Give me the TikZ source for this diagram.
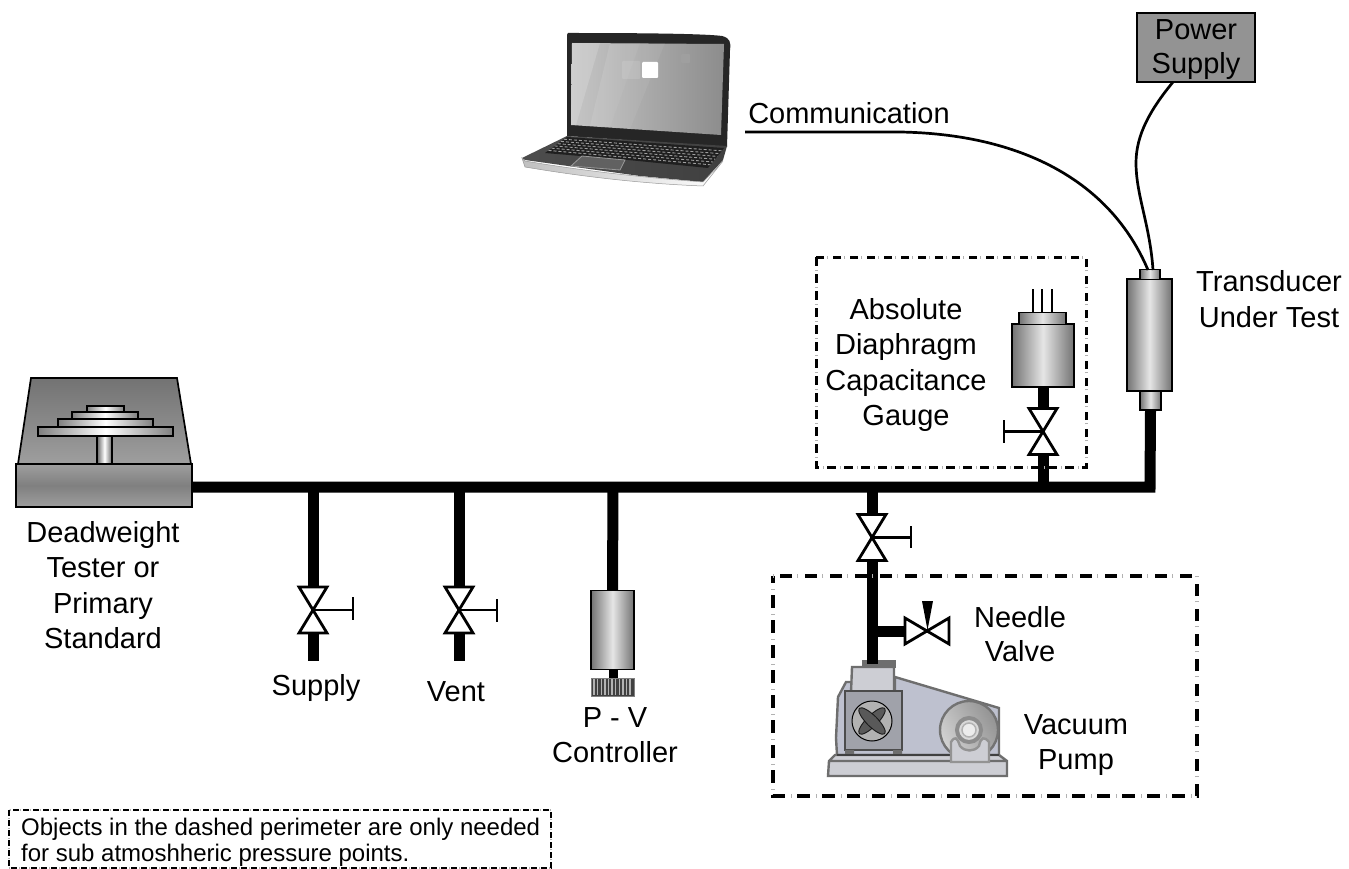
\documentclass[tikz,border=0pt]{standalone}
\usepackage{fontspec}
\setmainfont{Liberation Sans}
\usetikzlibrary{calc}
\definecolor{g40}{gray}{0.40}
\definecolor{g45}{gray}{0.45}
\definecolor{g50}{gray}{0.50}
\definecolor{g62}{gray}{0.62}
\definecolor{g90}{gray}{0.90}
\definecolor{bodyblue}{RGB}{190,193,207}
\definecolor{boxgray}{RGB}{160,162,170}
\definecolor{lightbox}{RGB}{205,206,212}
\definecolor{pumpline}{RGB}{110,110,110}
\tikzset{
  pipe/.style={line width=11pt,black},
  thinwire/.style={line width=2.7pt,black},
  handle/.style={line width=2.7pt,black},
  cyl/.style={draw=black,line width=1.7pt,inner sep=0pt,outer sep=0pt,left color=g45,right color=g45,middle color=g90},
  label/.style={align=center,font=\fontsize{29}{35.5}\selectfont,inner sep=0pt,text=black},
  bigdash/.style={line width=3.5pt,dash pattern=on 12.5pt off 12.5pt,dash phase=6pt},
  bigtick/.style={line width=3.5pt,gray!60,dash pattern=on 1pt off 24pt,dash phase=12.25pt},
  middash/.style={line width=3pt,dash pattern=on 8.5pt off 8.5pt},
  midtick/.style={line width=3pt,gray!60,dash pattern=on 1pt off 16pt,dash phase=4.25pt},
  smalldash/.style={line width=2.8pt,dash pattern=on 6pt off 4pt},
  smalltick/.style={line width=2.8pt,gray!60,dash pattern=on 1pt off 9pt,dash phase=2pt},
  valvebody/.style={draw=black,line width=2.8pt,fill=white,line join=miter},
  valve/.pic={
    \fill[white] (-14,-23) rectangle (14,23);
    \draw[valvebody] (-14,-23) -- (14,-23) -- (-14,23) -- (14,23) -- cycle;
  },
  needlevalve/.pic={
    \fill[white] (-22,-13) rectangle (22,13);
    \draw[valvebody] (-22,-13) -- (-22,13) -- (22,-13) -- (22,13) -- cycle;
  },
}
\begin{document}
\begin{tikzpicture}[x=1pt,y=-1pt]
\useasboundingbox (0,0) rectangle (1349,869);

% ---------- named nodes
\node[draw=black,line width=1.7pt,inner sep=0pt,top color=g62,bottom color=g62,middle color=g50,minimum width=176pt,minimum height=43pt] (tester) at (104,485.5) {};
\node[cyl,minimum width=43pt,minimum height=79pt] (pv) at (612.5,630) {};
\node[draw=black,fill=black,inner sep=0pt,minimum width=8pt,minimum height=10pt] (pvneck) at (613,674) {};
\node[cyl,minimum width=62pt,minimum height=63pt] (gauge) at (1043,355.5) {};
\node[cyl,minimum width=47pt,minimum height=12pt] (gaugecap) at (1042.5,318.5) {};
\node[cyl,minimum width=45pt,minimum height=112pt] (transducer) at (1149.5,335) {};
\node[cyl,minimum width=21pt,minimum height=19pt] (transneck) at (1150.5,400.5) {};
\node[cyl,minimum width=20pt,minimum height=10pt] (transcap) at (1150,274.5) {};
\node[draw=black,line width=1.7pt,fill=gray!85,minimum width=118pt,minimum height=69pt,inner sep=0pt] (power) at (1196,47.5) {};

\coordinate (elbow) at (1150,487);
\coordinate (teeSupply) at (313,487);
\coordinate (endSupply) at (313,661);
\coordinate (teeVent) at (459,487);
\coordinate (endVent) at (459,661);
\coordinate (teePV) at (613,487);
\coordinate (teeGauge) at (1043,487);
\coordinate (teePump) at (872,487);
\coordinate (endPump) at (872,664);
\coordinate (teeNeedle) at (872,631);
\coordinate (vSupply) at (313,610);
\coordinate (vVent) at (459,610);
\coordinate (vGauge) at (1043,431.5);
\coordinate (vPump) at (872,537.5);
\coordinate (vNeedle) at (927,631);
\coordinate (laptopPort) at (745,132);
\coordinate (commBend) at (900,132);
\coordinate (commEnd) at (1148,270);
\coordinate (powerOut) at (1173,82);
\coordinate (powerBulge) at (1136,163);
\coordinate (powerEnd) at (1153,270);

% ---------- pipes
\draw[pipe] (tester.east |- elbow) -- (elbow) -- (transneck.south);
\draw[pipe] (teeSupply) -- (endSupply);
\draw[pipe] (teeVent) -- (endVent);
\draw[pipe] (teePV) -- (pv.north);
\draw[pipe] (teeGauge) -- (gauge.south);
\draw[pipe] (teePump) -- (endPump);
\draw[pipe] (teeNeedle) -- (vNeedle);

% ---------- valves and handles
\pic at (vSupply) {valve};
\pic at (vVent) {valve};
\pic at (vGauge) {valve};
\pic at (vPump) {valve};
\pic at (vNeedle) {needlevalve};
\draw[handle] (vSupply) -- ++(40,0) (353,597) -- (353,620);
\draw[handle] (vVent) -- ++(38,0) (497,599) -- (497,622);
\draw[handle] (vGauge) -- ++(-39,0) (1004,420) -- (1004,443);
\draw[handle] (vPump) -- ++(39,0) (911,526) -- (911,548);
\fill[black] (922,601) -- (933,601) -- (927.5,630) -- cycle;

% ---------- deadweight tester
\shade[top color=g45,bottom color=g62,draw=black,line width=1.7pt] (31,378) -- (177,378) -- (191,464) -- (18,464) -- cycle;
\draw[cyl,left color=g40,right color=g40,middle color=white] (97,436) rectangle (112,464);
\draw[cyl,left color=g50,right color=g50,middle color=white] (87,406) rectangle (124,412);
\draw[cyl,left color=g50,right color=g50,middle color=white] (72,412) rectangle (138,419);
\draw[cyl,left color=g50,right color=g50,middle color=white] (58,419) rectangle (153,427);
\draw[cyl,left color=g50,right color=g50,middle color=white] (38,427) rectangle (173,436);

% ---------- P-V controller knob
\draw[draw=gray,line width=1pt,fill=black!75] (591,678) rectangle (634,696);
\foreach \k in {594,597.6,...,632}{\draw[line width=1.4pt,gray!60] (\k,679) -- (\k,695);}

% ---------- gauge pins
\draw[line width=2.8pt] (1033,289) -- (1033,312) (1042,289) -- (1042,312) (1052,289) -- (1052,312);

% ---------- wires
\draw[thinwire] (laptopPort) -- (commBend) .. controls (1020,134) and (1110,180) .. (commEnd);
\draw[thinwire] (powerOut) .. controls (1150,110) and (1136,135) .. (powerBulge) .. controls (1136,195) and (1150,225) .. (powerEnd);

% ---------- laptop
\fill[black!85] (568,33) .. controls (600,33) and (700,33) .. (722,36) .. controls (730,38) and (731,42) .. (730,50) -- (727,147) -- (567,136) -- (567,40) .. controls (567,35) and (567,33) .. (568,33) -- cycle;
\shade[left color=gray!45,right color=gray!90] (572,43) -- (724,44) -- (721,135) -- (571,125) -- cycle;
\fill[white,opacity=.16] (572,43) -- (600,43) -- (576,125) -- (571,125) -- cycle;
\fill[white,opacity=.10] (610,43) -- (640,43) -- (610,127) -- (590,126) -- cycle;
\fill[white,opacity=.06] (640,43) -- (665,43) -- (630,129) -- (610,127) -- cycle;
\fill[white,rounded corners=1pt] (642,62) rectangle (658,78);
\fill[white,opacity=.12,rounded corners=1pt] (622,61) rectangle (640,79);
\fill[gray!75,rounded corners=1pt] (681,54) rectangle (690,63);
\shade[left color=black!70,right color=black!75] (567,136) -- (727,146) -- (723,160) -- (703,182) -- (640,176) -- (525,160) -- (522,158) -- cycle;
\fill[black!88] (567,137) -- (724,148) -- (708,168) -- (628,160) -- (545,153) -- cycle;
\foreach \t in {0.14,0.28,...,0.9}{
  \draw[gray!75,line width=.9pt,dash pattern=on 3pt off 2pt]
    ($(567,137)!\t!(545,153)$) -- ($(724,148)!\t!(708,168)$);
}
\draw[gray!80,line width=.8pt,fill=black!62] (582,156) -- (625,160) -- (620,170) -- (571,166) -- cycle;
\shade[left color=gray!50,right color=white,draw=gray!80,line width=.5pt] (522,158) -- (525,167) .. controls (590,178) and (650,184) .. (703,186) -- (723,161) -- (703,182) .. controls (650,178) and (590,172) .. (525,161) -- cycle;

% ---------- vacuum pump
\fill[pumpline] (862,660) rectangle (896,668);
\fill[gray!60] (867,660) rectangle (877,664);
\draw[pipe] (872,650) -- (endPump);
\draw[pumpline,line width=2.4pt,fill=bodyblue] (895,677) -- (999,708) -- (999,755) -- (837,755) -- (836,738) -- (838,697) -- (846,682) -- (852,682) -- (852,692) -- (895,692) -- cycle;
\draw[pumpline,line width=2.4pt,fill=lightbox] (852,667) -- (894,667) -- (894,692) -- (851,692) -- cycle;
\draw[black!70,line width=1.2pt,fill=boxgray] (845,691) rectangle (902,750);
\fill[pumpline] (845,750) rectangle (854,757) (893,750) rectangle (902,757);
\draw[pumpline,line width=2.4pt,fill=lightbox] (829,761) -- (828,776) -- (1007,776) -- (1007,761) -- (999,755) -- (835,755) -- cycle (829,761) -- (1007,761);
\draw[black!75,line width=1.6pt] (837,755) -- (999,755);
\draw[black,line width=1pt,fill=gray!60] (872,721) circle[radius=20];
\begin{scope}[shift={(872,721)}]
  \draw[black!90,line width=.9pt,fill=black!65,rotate=45] (0,0) ellipse[x radius=18,y radius=5.5];
  \draw[black!90,line width=.9pt,fill=black!65,rotate=-45] (0,0) ellipse[x radius=18,y radius=5.5];
  \fill[black!65] (0,0) circle[radius=5];
\end{scope}
\shade[left color=gray!35,right color=gray!85,shading angle=120,draw=gray!90!black,line width=2.4pt] (969,730) circle[radius=29];
\draw[gray!90,line width=4pt,fill=gray!30] (969,730) circle[radius=12];
\draw[gray!60,line width=1.5pt,fill=gray!15] (969,730) circle[radius=7];
\draw[gray!85,line width=2.4pt,fill=lightbox] (951,762) -- (951,742) .. controls (955,736) and (957,737) .. (960,746) .. controls (965,752) and (974,752) .. (979,746) .. controls (981,737) and (984,736) .. (989,742) -- (989,762) -- cycle;

% ---------- dashed boundaries
\draw[middash] (816,257) rectangle (1086,467);
\draw[midtick] (816,257) rectangle (1086,467);
\draw[bigdash] (773,576) rectangle (1197,796);
\draw[bigtick] (773,576) rectangle (1197,796);
\draw[smalldash] (9,810) rectangle (551,868);
\draw[smalltick] (9,810) rectangle (551,868);

% ---------- labels
\node[label] (lblComm) at (849,113) {Communication};
\node[label,font=\fontsize{29}{34}\selectfont] (lblPower) at (1196,50) {Power\\Supply};
\node[label] (lblTrans) at (1269,299) {Transducer\\Under Test};
\node[label] (lblGauge) at (906,365) {Absolute\\Diaphragm\\Capacitance\\Gauge};
\node[label] (lblTester) at (103,585) {Deadweight\\Tester or\\Primary\\Standard};
\node[label] (lblSupply) at (316,688) {Supply};
\node[label] (lblVent) at (456,692) {Vent};
\node[label] (lblPV) at (615,735) {P - V\\Controller};
\node[label,font=\fontsize{29}{34}\selectfont] (lblNeedle) at (1020,634) {Needle\\Valve};
\node[label] (lblVacuum) at (1076,745) {Vacuum\\Pump};
\node[align=left,anchor=north west,font=\fontsize{24}{26}\selectfont,inner sep=0pt] (lblNote) at (21,818) {Objects in the dashed perimeter are only needed\\for sub atmoshheric pressure points.};
\end{tikzpicture}
\end{document}
